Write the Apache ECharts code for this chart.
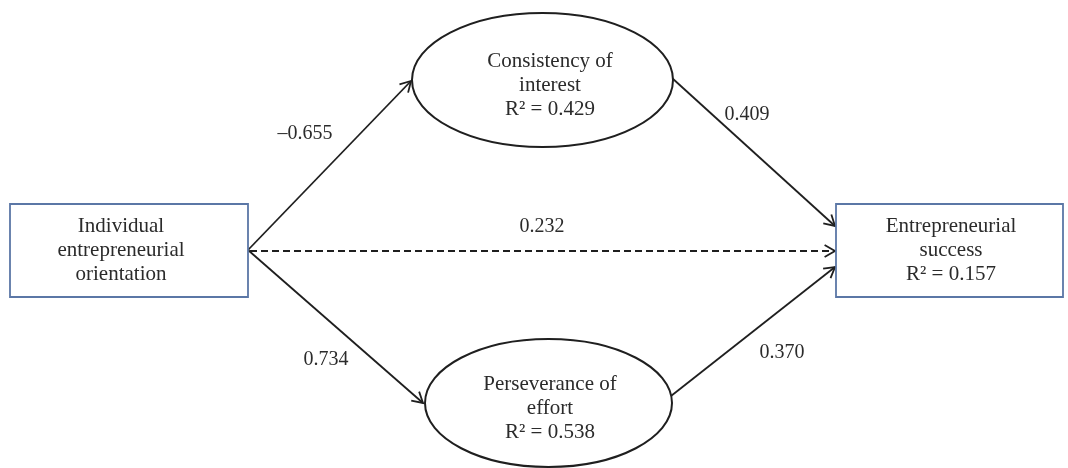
<!DOCTYPE html>
<html>
<head>
<meta charset="utf-8">
<script src="https://cdn.jsdelivr.net/npm/echarts@6/dist/echarts.min.js"></script>
<style>html,body{margin:0;padding:0;background:#fff}#chart{width:1068px;height:468px}</style>
</head>
<body>
<div id="chart"></div>
<script>
// ---- data ----
const constructLines = [
  ['Individual', 'entrepreneurial', 'orientation'],
  ['Consistency of', 'interest'],
  ['Perseverance of', 'effort'],
  ['Entrepreneurial', 'success']
];
const rSquared = [null, 0.429, 0.538, 0.157];
const pathFrom = [0, 0, 1, 2, 0];
const pathTo = [1, 2, 3, 3, 3];
const pathCoefficients = [-0.655, 0.734, 0.409, 0.370, 0.232];

// ---- layout (diagram space, axes span 0..1068 x 0..468) ----
const nodeLayout = [
  { shape: 'rect', x: 10, y: 204, w: 238, h: 93, tx: 121, ty: 250 },
  { shape: 'ellipse', cx: 542.5, cy: 80, rx: 130.5, ry: 67, tx: 550, ty: 85 },
  { shape: 'ellipse', cx: 548.5, cy: 403, rx: 123.5, ry: 64, tx: 550, ty: 408 },
  { shape: 'rect', x: 836, y: 204, w: 227, h: 93, tx: 951, ty: 250 }
];
const edgeLayout = [
  { x1: 248, y1: 250, x2: 411, y2: 81, lx: 305, ly: 134, dashed: false },
  { x1: 248, y1: 250, x2: 423, y2: 403, lx: 326, ly: 360, dashed: false },
  { x1: 672, y1: 78, x2: 835, y2: 226, lx: 747, ly: 115, dashed: false },
  { x1: 671, y1: 396, x2: 835, y2: 267, lx: 782, ly: 353, dashed: false },
  { x1: 250, y1: 251, x2: 835, y2: 251, lx: 542, ly: 227, dashed: true }
];

const FONT_FAMILY = '"Liberation Serif", "Times New Roman", serif';
const TEXT_COLOR = '#2b2b2b';
const LINE_COLOR = '#1f1f1f';
const BOX_COLOR = '#5b77a6';

function fmt(v) {
  const s = Math.abs(v).toFixed(3);
  return v < 0 ? '\u2013' + s : s;
}

const chart = echarts.init(document.getElementById('chart'), null, { renderer: 'canvas' });

function renderNode(params, api) {
  const i = params.dataIndex;
  const L = nodeLayout[i];
  const children = [];
  if (L.shape === 'rect') {
    const p0 = api.coord([L.x, L.y]);
    const p1 = api.coord([L.x + L.w, L.y + L.h]);
    children.push({
      type: 'rect',
      shape: { x: p0[0], y: p0[1], width: p1[0] - p0[0], height: p1[1] - p0[1] },
      style: { fill: '#fff', stroke: BOX_COLOR, lineWidth: 1.8 }
    });
  } else {
    const c = api.coord([L.cx, L.cy]);
    const e = api.coord([L.cx + L.rx, L.cy + L.ry]);
    children.push({
      type: 'ellipse',
      shape: { cx: c[0], cy: c[1], rx: e[0] - c[0], ry: e[1] - c[1] },
      style: { fill: '#fff', stroke: LINE_COLOR, lineWidth: 2 }
    });
  }
  const lines = constructLines[i].slice();
  if (rSquared[i] !== null) lines.push('R\u00B2 = ' + rSquared[i].toFixed(3));
  const t = api.coord([L.tx, L.ty]);
  children.push({
    type: 'text',
    style: {
      text: lines.join('\n'), x: t[0], y: t[1],
      align: 'center', verticalAlign: 'middle',
      font: '21px ' + FONT_FAMILY, lineHeight: 24, fill: TEXT_COLOR
    }
  });
  return { type: 'group', children: children };
}

function renderEdge(params, api) {
  const i = params.dataIndex;
  const L = edgeLayout[i];
  const a = api.coord([L.x1, L.y1]);
  const b = api.coord([L.x2, L.y2]);
  const ang = Math.atan2(b[1] - a[1], b[0] - a[0]);
  const len = 12, spread = Math.PI / 6;
  const h1 = [b[0] - len * Math.cos(ang - spread), b[1] - len * Math.sin(ang - spread)];
  const h2 = [b[0] - len * Math.cos(ang + spread), b[1] - len * Math.sin(ang + spread)];
  const lp = api.coord([L.lx, L.ly]);
  return {
    type: 'group',
    children: [
      {
        type: 'line',
        shape: { x1: a[0], y1: a[1], x2: b[0], y2: b[1] },
        style: { stroke: LINE_COLOR, lineWidth: L.dashed ? 2 : 1.8, lineDash: L.dashed ? [7, 4] : null }
      },
      {
        type: 'polyline',
        shape: { points: [h1, b, h2] },
        style: { stroke: LINE_COLOR, lineWidth: 1.8, fill: null }
      },
      {
        type: 'text',
        style: {
          text: fmt(pathCoefficients[i]), x: lp[0], y: lp[1],
          align: 'center', verticalAlign: 'middle',
          font: '20px ' + FONT_FAMILY, fill: TEXT_COLOR
        }
      }
    ]
  };
}

chart.setOption({
  animation: false,
  backgroundColor: '#ffffff',
  grid: { left: 0, right: 0, top: 0, bottom: 0 },
  xAxis: { type: 'value', min: 0, max: 1068, show: false },
  yAxis: { type: 'value', min: 0, max: 468, inverse: true, show: false },
  series: [
    {
      type: 'custom',
      name: 'paths',
      renderItem: renderEdge,
      data: pathCoefficients.map((v, i) => [pathFrom[i], pathTo[i], v]),
      encode: { x: 0, y: 1 },
      z: 1
    },
    {
      type: 'custom',
      name: 'constructs',
      renderItem: renderNode,
      data: constructLines.map((l, i) => [i, rSquared[i] === null ? 0 : rSquared[i]]),
      encode: { x: 0, y: 1 },
      z: 2
    }
  ]
});
</script>
</body>
</html>
